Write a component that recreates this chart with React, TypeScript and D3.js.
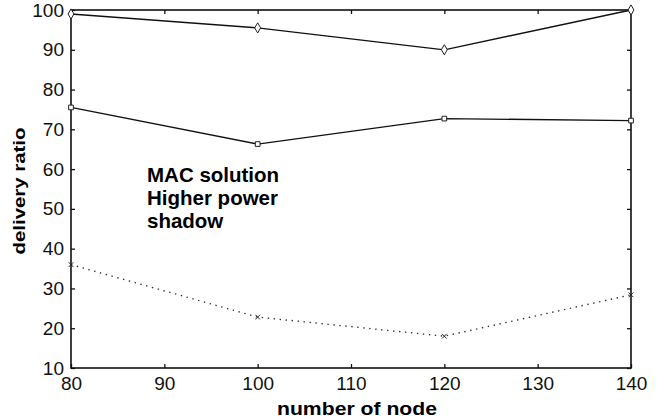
import React, { useEffect, useRef } from 'react';
import * as d3 from 'd3';

// number of nodes on the x axis
const nodes = [80, 100, 120, 140];
// delivery ratio, one array per curve
const macSolution = [99, 95.5, 90, 100];
const higherPower = [75.5, 66.3, 72.7, 72.2];
const shadow = [36, 22.8, 18, 28.4];

const xTicks = [80, 90, 100, 110, 120, 130, 140];
const yTicks = [10, 20, 30, 40, 50, 60, 70, 80, 90, 100];
const legendLines = ['MAC solution', 'Higher power', 'shadow'];

const W = 671;
const H = 419;

function App() {
  const ref = useRef<SVGSVGElement>(null);

  useEffect(() => {
    const svg = d3.select(ref.current);
    svg.selectAll('*').remove();
    const margin = { top: 10, right: 40, bottom: 51, left: 71 };
    const font = '"Liberation Sans", Arial, sans-serif';

    const x = d3
      .scaleLinear()
      .domain([80, 140])
      .range([margin.left, W - margin.right]);
    const y = d3
      .scaleLinear()
      .domain([10, 100])
      .range([H - margin.bottom, margin.top]);

    // ticks on all four sides, pointing in
    const tickLen = 4;
    const g = svg.append('g');
    g.append('g')
      .attr('transform', `translate(0,${y(10)})`)
      .call(d3.axisBottom(x).tickValues(xTicks).tickSize(-tickLen).tickPadding(9).tickSizeOuter(0));
    g.append('g')
      .attr('transform', `translate(0,${y(100)})`)
      .call(d3.axisTop(x).tickValues(xTicks).tickSize(-tickLen).tickFormat(() => '').tickSizeOuter(0));
    g.append('g')
      .attr('transform', `translate(${x(80)},0)`)
      .call(d3.axisLeft(y).tickValues(yTicks).tickSize(-tickLen).tickPadding(7).tickSizeOuter(0));
    g.append('g')
      .attr('transform', `translate(${x(140)},0)`)
      .call(d3.axisRight(y).tickValues(yTicks).tickSize(-tickLen).tickFormat(() => '').tickSizeOuter(0));
    g.selectAll('.domain').remove();
    g.selectAll('.tick line').attr('stroke', '#111').attr('stroke-width', 1.3);
    g.selectAll('.tick text')
      .attr('fill', '#111')
      .attr('font-family', font)
      .attr('font-size', 19);

    svg
      .append('rect')
      .attr('x', x(80))
      .attr('y', y(100))
      .attr('width', x(140) - x(80))
      .attr('height', y(10) - y(100))
      .attr('fill', 'none')
      .attr('stroke', '#111')
      .attr('stroke-width', 1.6);

    const line = d3
      .line<number>()
      .x((_, i) => x(nodes[i]))
      .y(d => y(d));

    const series = [
      { values: macSolution, symbol: d3.symbolDiamond, size: 30, dash: null },
      { values: higherPower, symbol: d3.symbolSquare, size: 22, dash: null },
      { values: shadow, symbol: d3.symbolTimes, size: 16, dash: '1.4 4.6' },
    ];

    series.forEach(s => {
      svg
        .append('path')
        .datum(s.values)
        .attr('fill', 'none')
        .attr('stroke', s.dash ? '#333' : '#111')
        .attr('stroke-width', s.dash ? 1.4 : 1.3)
        .attr('stroke-dasharray', s.dash)
        .attr('d', line);
      svg
        .append('g')
        .selectAll('path')
        .data(s.values)
        .join('path')
        .attr('transform', (d, i) => `translate(${x(nodes[i])},${y(d)})`)
        .attr('d', d3.symbol().type(s.symbol).size(s.size)())
        .attr('fill', s.symbol === d3.symbolTimes ? 'none' : 'white')
        .attr('stroke', '#222')
        .attr('stroke-width', 1);
    });

    svg
      .append('text')
      .attr('x', (x(80) + x(140)) / 2 + 6)
      .attr('y', 415)
      .attr('text-anchor', 'middle')
      .attr('font-family', font)
      .attr('font-weight', 'bold')
      .attr('font-size', 18)
      .attr('textLength', 160)
      .attr('lengthAdjust', 'spacingAndGlyphs')
      .text('number of node');

    svg
      .append('text')
      .attr('transform', `translate(25,${(y(10) + y(100)) / 2 + 2}) rotate(-90)`)
      .attr('text-anchor', 'middle')
      .attr('font-family', font)
      .attr('font-weight', 'bold')
      .attr('font-size', 17)
      .attr('textLength', 127)
      .attr('lengthAdjust', 'spacingAndGlyphs')
      .text('delivery ratio');

    svg
      .append('g')
      .selectAll('text')
      .data(legendLines)
      .join('text')
      .attr('x', 147)
      .attr('y', (_, i) => 182 + i * 23)
      .attr('font-family', font)
      .attr('font-weight', 'bold')
      .attr('font-size', 20.5)
      .text(d => d);
  }, []);

  return (
    <svg
      ref={ref}
      width={W}
      height={H}
      style={{ position: 'absolute', left: 0, top: 0, background: 'white' }}
    />
  );
}

export default App;
